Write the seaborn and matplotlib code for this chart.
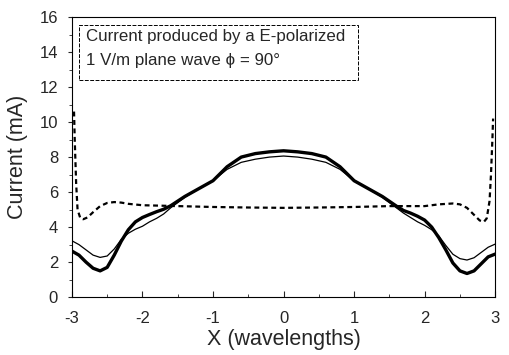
import numpy as np
import pandas as pd
import matplotlib
matplotlib.use("Agg")
import matplotlib.pyplot as plt
import seaborn as sns
from matplotlib.ticker import MultipleLocator
from matplotlib.patches import Rectangle

# ---- data ----
x_solid = [-3.0, -2.9, -2.8, -2.7, -2.6, -2.5, -2.4, -2.3, -2.2, -2.1, -2.0, -1.9, -1.8, -1.7, -1.6,
           -1.4, -1.2, -1.0, -0.8, -0.6, -0.4, -0.2, 0.0, 0.2, 0.4, 0.6, 0.8, 1.0, 1.2, 1.4,
           1.6, 1.7, 1.8, 1.9, 2.0, 2.1, 2.2, 2.3, 2.4, 2.5, 2.6, 2.7, 2.8, 2.9, 3.0]
thick = [2.63, 2.4, 2.0, 1.65, 1.5, 1.7, 2.4, 3.2, 3.85, 4.3, 4.55, 4.72, 4.88, 5.02, 5.22,
         5.75, 6.2, 6.65, 7.45, 8.0, 8.2, 8.3, 8.36, 8.3, 8.2, 8.0, 7.45, 6.65, 6.2, 5.75,
         5.2, 4.95, 4.8, 4.62, 4.4, 4.0, 3.4, 2.7, 1.95, 1.5, 1.35, 1.5, 1.9, 2.3, 2.46]
thin = [3.22, 3.0, 2.7, 2.4, 2.27, 2.35, 2.75, 3.3, 3.65, 3.88, 4.05, 4.3, 4.5, 4.75, 5.1,
        5.7, 6.2, 6.65, 7.3, 7.7, 7.88, 8.0, 8.06, 8.0, 7.88, 7.7, 7.3, 6.65, 6.2, 5.7,
        5.1, 4.8, 4.55, 4.3, 4.1, 3.85, 3.5, 2.95, 2.45, 2.2, 2.12, 2.25, 2.55, 2.85, 3.03]

x_dash = [-2.97, -2.96, -2.94, -2.92, -2.88, -2.84, -2.78, -2.7, -2.6, -2.5, -2.4, -2.3, -2.2,
          -2.0, -1.5, -1.0, -0.5, 0.0, 0.5, 1.0, 1.5, 2.0, 2.2, 2.4, 2.5, 2.6, 2.7, 2.78,
          2.84, 2.88, 2.92, 2.94, 2.96, 2.97]
dashed = [10.6, 9.0, 6.5, 5.0, 4.5, 4.45, 4.55, 4.85, 5.2, 5.38, 5.43, 5.4, 5.33,
          5.25, 5.2, 5.15, 5.12, 5.1, 5.12, 5.15, 5.2, 5.2, 5.3, 5.35, 5.3, 5.1, 4.7, 4.38,
          4.3, 4.5, 5.5, 7.0, 9.0, 10.2]

x_ticks = [-3, -2, -1, 0, 1, 2, 3]
y_ticks = [0, 2, 4, 6, 8, 10, 12, 14, 16]
title_lines = ["Current produced by a E-polarized", "1 V/m plane wave \u03d5 = 90\u00b0"]

sns.set_style("ticks")
plt.rcParams['font.family'] = ['Liberation Sans', 'DejaVu Sans']

fig = plt.figure(figsize=(5.10, 3.55), dpi=100)
ax = fig.add_axes([0.141, 0.163, 0.830, 0.789])

df_s = pd.DataFrame({"x": x_solid, "thick": thick, "thin": thin})
df_d = pd.DataFrame({"x": x_dash, "y": dashed})

sns.lineplot(data=df_s, x="x", y="thick", ax=ax, color="black", lw=2.4, sort=False)
sns.lineplot(data=df_s, x="x", y="thin", ax=ax, color="black", lw=0.9, sort=False)
sns.lineplot(data=df_d, x="x", y="y", ax=ax, color="black", lw=1.6, sort=False,
             dashes=False, linestyle=(0, (2.2, 1.6)))

ax.set_xlim(-3, 3)
ax.set_ylim(0, 16)
ax.set_xticks(x_ticks)
ax.set_yticks(y_ticks)
ax.xaxis.set_minor_locator(MultipleLocator(0.5))
ax.yaxis.set_minor_locator(MultipleLocator(1))
ax.tick_params(axis='x', direction='in', length=4, width=0.8, labelsize=12, pad=10)
ax.tick_params(axis='x', which='minor', direction='in', length=2, width=0.6)
ax.tick_params(axis='y', direction='out', length=3, width=0.8, labelsize=12, pad=7)
ax.tick_params(axis='y', which='minor', direction='out', length=2, width=0.6)
ax.set_xticklabels([str(v) for v in x_ticks])
ax.set_yticklabels([str(v) for v in y_ticks])
for s in ax.spines.values():
    s.set_visible(True)
    s.set_linewidth(0.8)
    s.set_color("black")

ax.set_xlabel("X (wavelengths)", fontsize=15.5, labelpad=2)
ax.set_ylabel("Current (mA)", fontsize=15.5, labelpad=8)

ax.add_patch(Rectangle((0.0165, 0.775), 0.66, 0.196, transform=ax.transAxes,
                       fc='white', ec='black', lw=0.7, ls=(0, (4, 1.5)), zorder=5))
ax.text(0.033, 0.929, title_lines[0], transform=ax.transAxes, fontsize=12.2,
        va='center', ha='left', zorder=6)
ax.text(0.033, 0.846, title_lines[1], transform=ax.transAxes, fontsize=12.2,
        va='center', ha='left', zorder=6)

fig.savefig("out.png", dpi=100)
